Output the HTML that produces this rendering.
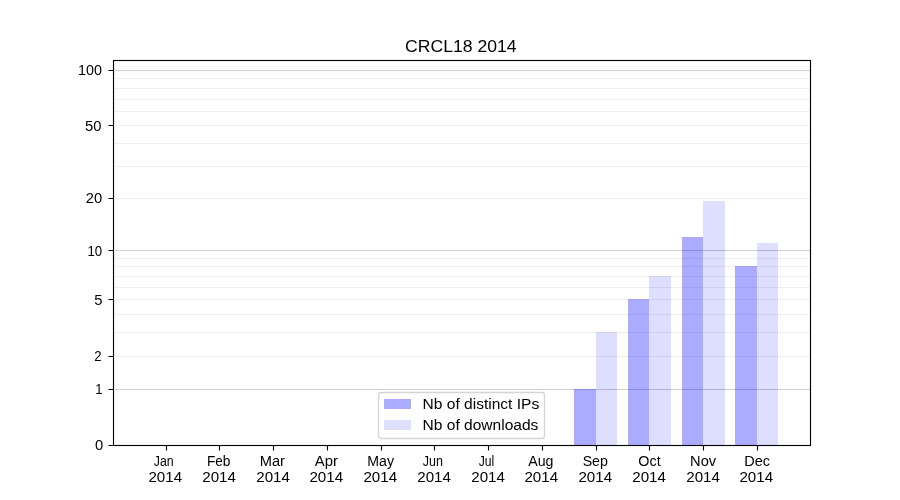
<!DOCTYPE html>
<html><head><meta charset="utf-8"><title>CRCL18 2014</title><style>html,body{margin:0;padding:0;background:#fff;width:900px;height:500px;overflow:hidden}svg{display:block;will-change:transform}text{font-family:"Liberation Sans",sans-serif;fill:#000}</style></head><body>
<svg width="900" height="500" viewBox="0 0 900 500">
<rect width="900" height="500" fill="#fff"/>
<rect x="113" y="77.944" width="697" height="1.111" fill="#b0b0b0" fill-opacity="0.2"/>
<rect x="113" y="87.944" width="697" height="1.111" fill="#b0b0b0" fill-opacity="0.2"/>
<rect x="113" y="98.944" width="697" height="1.111" fill="#b0b0b0" fill-opacity="0.2"/>
<rect x="113" y="110.944" width="697" height="1.111" fill="#b0b0b0" fill-opacity="0.2"/>
<rect x="113" y="124.944" width="697" height="1.111" fill="#b0b0b0" fill-opacity="0.2"/>
<rect x="113" y="142.944" width="697" height="1.111" fill="#b0b0b0" fill-opacity="0.2"/>
<rect x="113" y="165.944" width="697" height="1.111" fill="#b0b0b0" fill-opacity="0.2"/>
<rect x="113" y="197.944" width="697" height="1.111" fill="#b0b0b0" fill-opacity="0.2"/>
<rect x="113" y="257.944" width="697" height="1.111" fill="#b0b0b0" fill-opacity="0.2"/>
<rect x="113" y="265.944" width="697" height="1.111" fill="#b0b0b0" fill-opacity="0.2"/>
<rect x="113" y="275.944" width="697" height="1.111" fill="#b0b0b0" fill-opacity="0.2"/>
<rect x="113" y="286.944" width="697" height="1.111" fill="#b0b0b0" fill-opacity="0.2"/>
<rect x="113" y="298.944" width="697" height="1.111" fill="#b0b0b0" fill-opacity="0.2"/>
<rect x="113" y="313.944" width="697" height="1.111" fill="#b0b0b0" fill-opacity="0.2"/>
<rect x="113" y="331.944" width="697" height="1.111" fill="#b0b0b0" fill-opacity="0.2"/>
<rect x="113" y="355.944" width="697" height="1.111" fill="#b0b0b0" fill-opacity="0.2"/>
<rect x="113" y="69.944" width="697" height="1.111" fill="#b0b0b0" fill-opacity="0.6"/>
<rect x="113" y="249.944" width="697" height="1.111" fill="#b0b0b0" fill-opacity="0.6"/>
<rect x="113" y="388.944" width="697" height="1.111" fill="#b0b0b0" fill-opacity="0.6"/>
<rect x="574" y="389" width="22" height="56" fill="#0000ff" fill-opacity="0.33"/>
<rect x="628" y="299" width="21" height="146" fill="#0000ff" fill-opacity="0.33"/>
<rect x="682" y="237" width="21" height="208" fill="#0000ff" fill-opacity="0.33"/>
<rect x="735" y="266" width="22" height="179" fill="#0000ff" fill-opacity="0.33"/>
<rect x="596" y="332" width="21" height="113" fill="#0000ff" fill-opacity="0.13"/>
<rect x="649" y="276" width="22" height="169" fill="#0000ff" fill-opacity="0.13"/>
<rect x="703" y="201" width="22" height="244" fill="#0000ff" fill-opacity="0.13"/>
<rect x="757" y="243" width="21" height="202" fill="#0000ff" fill-opacity="0.13"/>
<path d="M112.945 60H811.055V446H112.945Z M114.055 61V445H809.945V61Z" fill="#000" fill-rule="evenodd"/>
<path d="M113 59h698v1H113Z M113 61h697v1H113Z M113 444h697v1H113Z M113 446h698v1H113Z" fill="#000" fill-opacity="0.055"/>
<path d="M166.5 445.5V450.5M219.5 445.5V450.5M273.5 445.5V450.5M327.5 445.5V450.5M381.5 445.5V450.5M434.5 445.5V450.5M488.5 445.5V450.5M542.5 445.5V450.5M596.5 445.5V450.5M649.5 445.5V450.5M703.5 445.5V450.5M757.5 445.5V450.5M108.5 445.5H113.5M108.5 389.5H113.5M108.5 356.5H113.5M108.5 299.5H113.5M108.5 250.5H113.5M108.5 198.5H113.5M108.5 125.5H113.5M108.5 70.5H113.5" fill="none" stroke="#000" stroke-width="1.111"/>
<rect x="378.5" y="392.5" width="166" height="46" rx="2.78" ry="2.78" fill="#fff" fill-opacity="0.8" stroke="#cccccc" stroke-opacity="0.8" stroke-width="1.389"/>
<rect x="384" y="399" width="27" height="10" fill="#0000ff" fill-opacity="0.33"/>
<rect x="384" y="420" width="27" height="10" fill="#0000ff" fill-opacity="0.13"/>
<text x="460.85" y="52.00" font-size="17.000" text-anchor="middle" textLength="111.47" lengthAdjust="spacingAndGlyphs">CRCL18 2014</text>
<text x="99.18" y="449.70" font-size="13.889" text-anchor="middle" textLength="8.22" lengthAdjust="spacingAndGlyphs">0</text>
<text x="98.78" y="393.70" font-size="13.889" text-anchor="middle" textLength="7.28" lengthAdjust="spacingAndGlyphs">1</text>
<text x="97.98" y="360.70" font-size="13.889" text-anchor="middle" textLength="7.28" lengthAdjust="spacingAndGlyphs">2</text>
<text x="98.38" y="304.50" font-size="13.889" text-anchor="middle" textLength="8.22" lengthAdjust="spacingAndGlyphs">5</text>
<text x="94.76" y="255.50" font-size="13.889" text-anchor="middle" textLength="14.73" lengthAdjust="spacingAndGlyphs">10</text>
<text x="93.96" y="202.70" font-size="13.889" text-anchor="middle" textLength="16.44" lengthAdjust="spacingAndGlyphs">20</text>
<text x="93.16" y="130.50" font-size="13.889" text-anchor="middle" textLength="16.44" lengthAdjust="spacingAndGlyphs">50</text>
<text x="89.95" y="74.70" font-size="13.889" text-anchor="middle" textLength="23.89" lengthAdjust="spacingAndGlyphs">100</text>
<text x="163.78" y="466.00" font-size="13.889" text-anchor="middle" textLength="19.91" lengthAdjust="spacingAndGlyphs">Jan</text>
<text x="165.30" y="482.00" font-size="13.889" text-anchor="middle" textLength="33.69" lengthAdjust="spacingAndGlyphs">2014</text>
<text x="218.70" y="466.00" font-size="13.889" text-anchor="middle" textLength="23.58" lengthAdjust="spacingAndGlyphs">Feb</text>
<text x="219.10" y="482.00" font-size="13.889" text-anchor="middle" textLength="33.69" lengthAdjust="spacingAndGlyphs">2014</text>
<text x="272.30" y="466.00" font-size="13.889" text-anchor="middle" textLength="25.22" lengthAdjust="spacingAndGlyphs">Mar</text>
<text x="273.10" y="482.00" font-size="13.889" text-anchor="middle" textLength="33.69" lengthAdjust="spacingAndGlyphs">2014</text>
<text x="326.30" y="466.00" font-size="13.889" text-anchor="middle" textLength="23.16" lengthAdjust="spacingAndGlyphs">Apr</text>
<text x="326.30" y="482.00" font-size="13.889" text-anchor="middle" textLength="33.69" lengthAdjust="spacingAndGlyphs">2014</text>
<text x="380.70" y="466.00" font-size="13.889" text-anchor="middle" textLength="26.70" lengthAdjust="spacingAndGlyphs">May</text>
<text x="380.30" y="482.00" font-size="13.889" text-anchor="middle" textLength="33.69" lengthAdjust="spacingAndGlyphs">2014</text>
<text x="432.88" y="466.00" font-size="13.889" text-anchor="middle" textLength="20.18" lengthAdjust="spacingAndGlyphs">Jun</text>
<text x="434.10" y="482.00" font-size="13.889" text-anchor="middle" textLength="33.69" lengthAdjust="spacingAndGlyphs">2014</text>
<text x="486.43" y="466.00" font-size="13.889" text-anchor="middle" textLength="15.58" lengthAdjust="spacingAndGlyphs">Jul</text>
<text x="488.10" y="482.00" font-size="13.889" text-anchor="middle" textLength="33.69" lengthAdjust="spacingAndGlyphs">2014</text>
<text x="540.90" y="466.00" font-size="13.889" text-anchor="middle" textLength="25.26" lengthAdjust="spacingAndGlyphs">Aug</text>
<text x="541.30" y="482.00" font-size="13.889" text-anchor="middle" textLength="33.69" lengthAdjust="spacingAndGlyphs">2014</text>
<text x="595.30" y="466.00" font-size="13.889" text-anchor="middle" textLength="25.23" lengthAdjust="spacingAndGlyphs">Sep</text>
<text x="595.30" y="482.00" font-size="13.889" text-anchor="middle" textLength="33.69" lengthAdjust="spacingAndGlyphs">2014</text>
<text x="649.50" y="466.00" font-size="13.889" text-anchor="middle" textLength="22.33" lengthAdjust="spacingAndGlyphs">Oct</text>
<text x="649.10" y="482.00" font-size="13.889" text-anchor="middle" textLength="33.69" lengthAdjust="spacingAndGlyphs">2014</text>
<text x="703.10" y="466.00" font-size="13.889" text-anchor="middle" textLength="26.05" lengthAdjust="spacingAndGlyphs">Nov</text>
<text x="703.10" y="482.00" font-size="13.889" text-anchor="middle" textLength="33.69" lengthAdjust="spacingAndGlyphs">2014</text>
<text x="757.10" y="466.00" font-size="13.889" text-anchor="middle" textLength="25.86" lengthAdjust="spacingAndGlyphs">Dec</text>
<text x="756.30" y="482.00" font-size="13.889" text-anchor="middle" textLength="33.69" lengthAdjust="spacingAndGlyphs">2014</text>
<text x="480.89" y="409.00" font-size="13.889" text-anchor="middle" textLength="116.60" lengthAdjust="spacingAndGlyphs">Nb of distinct IPs</text>
<text x="480.48" y="430.00" font-size="13.889" text-anchor="middle" textLength="115.85" lengthAdjust="spacingAndGlyphs">Nb of downloads</text>
</svg></body></html>
